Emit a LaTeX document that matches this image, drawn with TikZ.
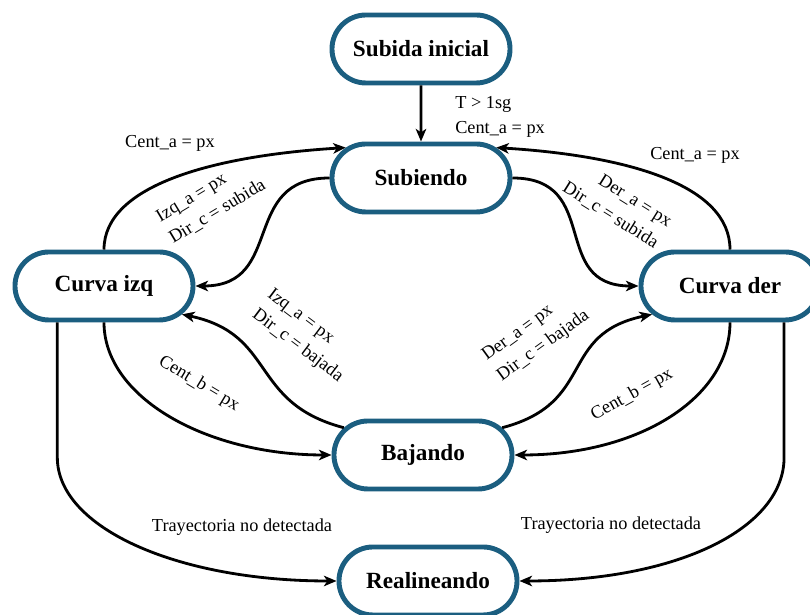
\documentclass[tikz,border=0pt]{standalone}
\usepackage{fontspec}
\setmainfont{Liberation Serif}
\usepackage{tikz}
\usetikzlibrary{arrows.meta,shapes.misc}
\definecolor{borde}{RGB}{27,94,128}

\begin{document}
\begin{tikzpicture}[x=0.025cm,y=0.025cm]
	\tikzstyle{state}=[rounded rectangle,draw=borde,line width=3.5pt,fill=white,minimum width=3.65cm,minimum height=1.7cm,inner xsep=-0.4cm,inner ysep=0pt,font=\fontsize{16.5}{18}\selectfont\bfseries]
	\tikzstyle{trans}=[line width=2pt,-{Stealth[length=9pt,width=7.5pt,inset=2.5pt]}]
	\tikzstyle{cond}=[font=\fontsize{13}{18}\selectfont,inner sep=0pt]
	\useasboundingbox (0,0) rectangle (810,615);
	\node[state] (ini) at (421,566) {Subida inicial};
	\node[state] (sub) at (421,437) {Subiendo};
	\node[state] (izq) at (104,329) {Curva izq};
	\node[state] (der) at (730,329) {Curva der};
	\node[state] (baj) at (423,160) {Bajando};
	\node[state] (rea) at (428,34) {Realineando};
	\node[cond,anchor=west,align=left] (t) at (455,498) {T > 1sg\\Cent\_a = px};
	\node[cond] (ca1) at (170,472) {Cent\_a = px};
	\node[cond] (ca2) at (695,460) {Cent\_a = px};
	\node[cond,rotate=31,align=left] (iz1) at (211,414) {Izq\_a = px\\Dir\_c = subida};
	\node[cond,rotate=-32,align=right] (de1) at (617,410) {Der\_a = px\\Dir\_c = subida};
	\node[cond,rotate=-37,align=left] (iz2) at (305,279) {Izq\_a = px\\Dir\_c = bajada};
	\node[cond,rotate=36,align=left] (de2) at (536,279) {Der\_a = px\\Dir\_c = bajada};
	\node[cond,rotate=-31] (cb1) at (199,231) {Cent\_b = px};
	\node[cond,rotate=29] (cb2) at (632,220) {Cent\_b = px};
	\node[cond] (tr1) at (242,88) {Trayectoria no detectada};
	\node[cond] (tr2) at (611,90) {Trayectoria no detectada};
	\draw[trans] (ini) -- (sub);
	\draw[trans] (izq.north) .. controls +(0,65) and +(-130,-8) .. (sub.158);
	\draw[trans] (der.north) .. controls +(0,65) and +(130,-8) .. (sub.22);
	\draw[trans] (sub.west) .. controls +(-90,0) and +(90,0) .. (izq.east);
	\draw[trans] (sub.east) .. controls +(90,0) and +(-90,0) .. (der.west);
	\draw[trans] (baj.161) .. controls +(-95,25) and +(95,-20) .. (izq.-20);
	\draw[trans] (baj.19) .. controls +(95,25) and +(-95,-20) .. (der.200);
	\draw[trans] (izq.south) .. controls +(0,-75) and +(-125,0) .. (baj.west);
	\draw[trans] (der.south) .. controls +(0,-75) and +(125,0) .. (baj.east);
	\draw[trans] (izq.218) -- ++(0,-135) .. controls +(0,-70) and +(-160,0) .. (rea.west);
	\draw[trans] (der.-34) -- ++(0,-135) .. controls +(0,-70) and +(160,0) .. (rea.east);
\end{tikzpicture}
\end{document}
